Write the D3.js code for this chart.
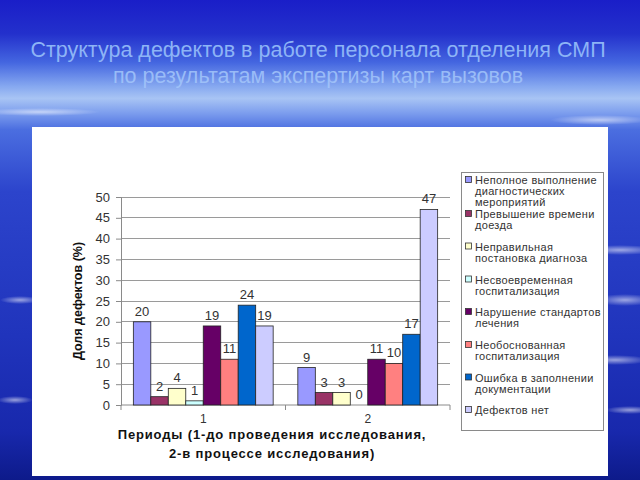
<!DOCTYPE html>
<html><head><meta charset="utf-8">
<script src="https://cdn.jsdelivr.net/npm/d3@7/dist/d3.min.js"></script>
<style>html,body{margin:0;padding:0;background:#1a2ab8;}svg{display:block;}</style>
</head><body>
<script>
const titleLines = ["Структура дефектов в работе персонала отделения СМП", "по результатам экспертизы карт вызовов"];
const categories = ["1", "2"];
const seriesNames = [
  ["Неполное выполнение", "диагностических", "мероприятий"],
  ["Превышение времени", "доезда"],
  ["Неправильная", "постановка диагноза"],
  ["Несвоевременная", "госпитализация"],
  ["Нарушение стандартов", "лечения"],
  ["Необоснованная", "госпитализация"],
  ["Ошибка в заполнении", "документации"],
  ["Дефектов нет"]
];
const seriesColors = ["#9999FF", "#993366", "#FFFFCC", "#CCFFFF", "#660066", "#FF8080", "#0066CC", "#CCCCFF"];
const period1 = [20, 2, 4, 1, 19, 11, 24, 19];
const period2 = [9, 3, 3, 0, 11, 10, 17, 47];
const yTicks = [0, 5, 10, 15, 20, 25, 30, 35, 40, 45, 50];
const yTitle = "Доля дефектов (%)";
const xTitle = ["Периоды (1-до проведения исследования,", "2-в процессе исследования)"];

(function () {
const W = 640, H = 480;
const svg = d3.select("body").append("svg").attr("width", W).attr("height", H);
const defs = svg.append("defs");

// background gradient
const bg = defs.append("linearGradient").attr("id", "bg").attr("x1", 0).attr("y1", 0).attr("x2", 0).attr("y2", 1);
[[0, "#1a1ec8"], [0.07, "#2330cc"], [0.13, "#4466e0"], [0.18, "#86a8f0"], [0.205, "#a8c4f4"], [0.235, "#7d9eee"], [0.27, "#4b6ee0"], [0.4, "#2c44cc"], [0.7, "#2034bc"], [0.9, "#1828ac"], [1, "#0d1a8a"]]
  .forEach(([o, c]) => bg.append("stop").attr("offset", o).attr("stop-color", c));
svg.append("rect").attr("width", W).attr("height", H).attr("fill", "url(#bg)");

// light streaks
const streak = defs.append("radialGradient").attr("id", "streak");
streak.append("stop").attr("offset", 0).attr("stop-color", "#ffffff").attr("stop-opacity", 0.55);
streak.append("stop").attr("offset", 1).attr("stop-color", "#ffffff").attr("stop-opacity", 0);
[[620, 250, 40, 5], [625, 300, 30, 6], [615, 360, 35, 5], [630, 410, 25, 4], [20, 300, 20, 4], [15, 400, 18, 4], [600, 120, 50, 5], [40, 112, 60, 4]]
  .forEach(([cx, cy, rx, ry]) => svg.append("ellipse").attr("cx", cx).attr("cy", cy).attr("rx", rx).attr("ry", ry).attr("fill", "url(#streak)"));

// title
svg.append("text").attr("x", 318).attr("y", 57).attr("text-anchor", "middle")
  .attr("font-family", "Liberation Sans, Arial, sans-serif").attr("font-size", 21.5)
  .attr("fill", "#8db4f6").text(titleLines[0]);
svg.append("text").attr("x", 318).attr("y", 83).attr("text-anchor", "middle")
  .attr("font-family", "Liberation Sans, Arial, sans-serif").attr("font-size", 21.5)
  .attr("fill", "#a4c6fa").attr("fill-opacity", 0.85).text(titleLines[1]);

// white panel
svg.append("rect").attr("x", 32).attr("y", 127).attr("width", 576).attr("height", 349).attr("fill", "#ffffff");

// plot
const pLeft = 121, pRight = 450, pTop = 197, pBottom = 405;
const x0 = d3.scaleBand().domain(categories).range([pLeft, pRight]).paddingInner(0.15).paddingOuter(0.075);
const x1 = d3.scaleBand().domain(d3.range(seriesNames.length)).range([0, x0.bandwidth()]);
const y = d3.scaleLinear().domain([0, 50]).range([pBottom, pTop]);
const font = "Liberation Sans, Arial, sans-serif";

// gridlines
svg.append("g").selectAll("line").data(yTicks.filter(d => d > 0)).join("line")
  .attr("x1", pLeft).attr("x2", pRight).attr("y1", d => y(d)).attr("y2", d => y(d))
  .attr("stroke", "#9a9a9a").attr("stroke-width", 1).attr("shape-rendering", "crispEdges");

// y axis
const yAxis = svg.append("g").attr("transform", `translate(${pLeft},0)`)
  .call(d3.axisLeft(y).tickValues(yTicks).tickSize(5).tickPadding(6));
yAxis.select(".domain").attr("stroke", "#8a8a8a");
yAxis.selectAll(".tick line").attr("stroke", "#8a8a8a");
yAxis.selectAll("text").attr("font-family", font).attr("font-size", 13).attr("fill", "#333");

// x axis
const xAxisG = svg.append("g").attr("transform", `translate(0,${pBottom})`);
xAxisG.append("line").attr("x1", pLeft).attr("x2", pRight).attr("y1", 0).attr("y2", 0).attr("stroke", "#8a8a8a");
const boundaries = [pLeft, (x0("1") + x0.bandwidth() + x0("2")) / 2, pRight];
xAxisG.selectAll("line.tk").data(boundaries).join("line").attr("class", "tk")
  .attr("x1", d => d).attr("x2", d => d).attr("y1", 0).attr("y2", 5).attr("stroke", "#8a8a8a");
xAxisG.selectAll("text").data(categories).join("text")
  .attr("x", d => x0(d) + x0.bandwidth() / 2).attr("y", 18).attr("text-anchor", "middle")
  .attr("font-family", font).attr("font-size", 12).attr("fill", "#333").text(d => d);

// bars
const data = categories.map((c, i) => ({ cat: c, vals: i === 0 ? period1 : period2 }));
const groups = svg.append("g").selectAll("g").data(data).join("g")
  .attr("transform", d => `translate(${x0(d.cat)},0)`);
groups.selectAll("rect").data(d => d.vals.map((v, i) => ({ v, i }))).join("rect")
  .attr("x", d => x1(d.i)).attr("width", x1.bandwidth())
  .attr("y", d => y(d.v)).attr("height", d => pBottom - y(d.v))
  .attr("fill", d => seriesColors[d.i]).attr("stroke", d => d.v > 0 ? "#222" : "none").attr("stroke-width", 0.8);
groups.selectAll("text").data(d => d.vals.map((v, i) => ({ v, i }))).join("text")
  .attr("x", d => x1(d.i) + x1.bandwidth() / 2).attr("y", d => y(d.v) - 6)
  .attr("text-anchor", "middle").attr("font-family", font).attr("font-size", 13).attr("fill", "#333")
  .text(d => d.v);

// axis titles
svg.append("text").attr("transform", `translate(82,${(pTop + pBottom) / 2}) rotate(-90)`)
  .attr("text-anchor", "middle").attr("font-family", font).attr("font-size", 12.5).attr("font-weight", "bold")
  .attr("fill", "#111").text(yTitle);
xTitle.forEach((t, i) => svg.append("text").attr("x", 272).attr("y", 439 + i * 19).attr("text-anchor", "middle")
  .attr("font-family", font).attr("font-size", 13).attr("font-weight", "bold").attr("fill", "#111")
  .attr("letter-spacing", 0.85).text(t));

// legend
svg.append("rect").attr("x", 461.5).attr("y", 172.5).attr("width", 142).attr("height", 258)
  .attr("fill", "#fff").attr("stroke", "#8a8a8a");
const itemY = [180, 214, 246.5, 279.5, 312, 345, 377.5, 410];
const lg = svg.append("g").selectAll("g").data(seriesNames).join("g")
  .attr("transform", (d, i) => `translate(0,${itemY[i]})`);
lg.append("rect").attr("x", 465.5).attr("y", -3.5).attr("width", 6).attr("height", 6)
  .attr("fill", (d, i) => seriesColors[i]).attr("stroke", "#333").attr("stroke-width", 0.8);
lg.selectAll("text").data(d => d).join("text")
  .attr("x", 475).attr("y", (d, j) => 4 + j * (d.length > 2 ? 11 : 11.7))
  .attr("font-family", font).attr("font-size", d => 11).attr("letter-spacing", 0.3).attr("fill", "#333").text(d => d);
})();
</script>
</body></html>
